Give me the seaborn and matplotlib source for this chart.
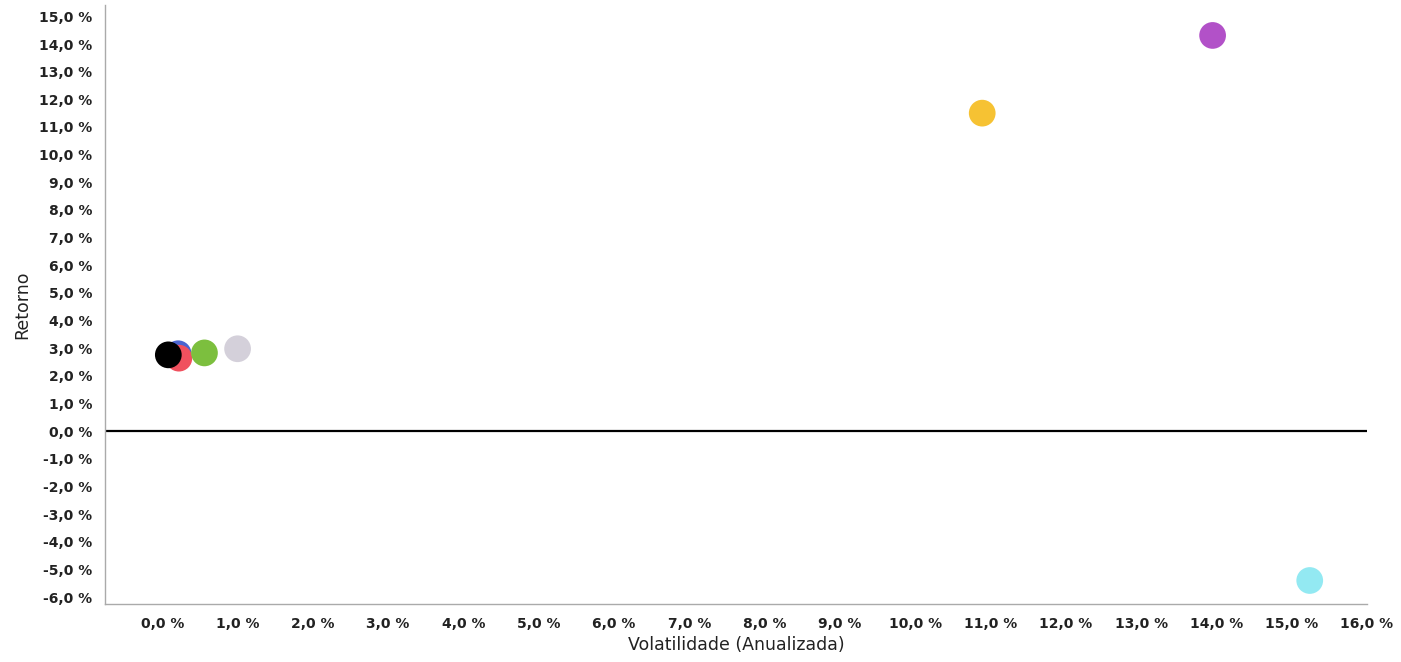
import matplotlib
matplotlib.use("Agg")
import matplotlib.pyplot as plt
import seaborn as sns
import pandas as pd
from matplotlib.ticker import FuncFormatter, MultipleLocator

# Data (percent)
assets = ["A", "B", "C", "D", "E", "F", "G", "H"]
volatility = [0.21, 0.22, 0.08, 0.56, 1.00, 10.89, 13.95, 15.24]
returns = [2.80, 2.64, 2.76, 2.83, 2.98, 11.50, 14.31, -5.40]
colors = ["#4a64d0", "#f0505e", "#000000", "#7cbf3e", "#d4d0da", "#f6c233", "#b251c8", "#93e9f2"]

df = pd.DataFrame({"asset": assets, "vol": volatility, "ret": returns})

sns.set_theme(style="white")
plt.rcParams["font.family"] = ["DejaVu Sans"]

fig = plt.figure(figsize=(14.01, 6.62), dpi=100)
ax = fig.add_axes([0.075, 0.0876, 0.9007, 0.9044])

sns.scatterplot(data=df, x="vol", y="ret", hue="asset", palette=colors,
                s=370, linewidth=0, legend=False, ax=ax, zorder=3)

ax.axhline(0, color="black", linewidth=1.6, zorder=2)

ax.set_xlim(-0.76, 16.0)
ax.set_ylim(-6.25, 15.4)
ax.xaxis.set_major_locator(MultipleLocator(1))
ax.yaxis.set_major_locator(MultipleLocator(1))
fmt = FuncFormatter(lambda v, p: f"{v:.1f}".replace(".", ",").replace("-0,0", "0,0") + " %")
ax.xaxis.set_major_formatter(fmt)
ax.yaxis.set_major_formatter(fmt)

ax.tick_params(axis="both", labelsize=10, length=3, color="#999999", pad=6)
for lab in ax.get_xticklabels() + ax.get_yticklabels():
    lab.set_fontweight("bold")
    lab.set_color("#222222")

for s in ["top", "right"]:
    ax.spines[s].set_visible(False)
for s in ["left", "bottom"]:
    ax.spines[s].set_color("#aaaaaa")
    ax.spines[s].set_linewidth(1)

ax.set_xlabel("Volatilidade (Anualizada)", fontsize=12.5, color="#222222", labelpad=4)
ax.set_ylabel("Retorno", fontsize=12.5, color="#222222", labelpad=6)

fig.savefig("out.png", dpi=100)
